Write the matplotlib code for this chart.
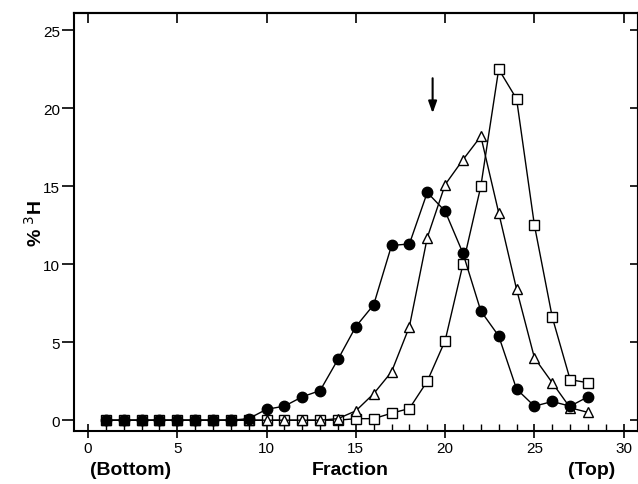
import numpy as np
import matplotlib
matplotlib.use('Agg')
import matplotlib.pyplot as plt

# fraction number, bottom (1) to top (28)
fractions = np.arange(1, 29)

# % 3H per fraction
filled_circles = [0, 0, 0, 0, 0, 0, 0, 0, 0.1, 0.7, 0.9, 1.5, 1.9, 3.9, 6.0, 7.4,
                  11.2, 11.3, 14.6, 13.4, 10.7, 7.0, 5.4, 2.0, 0.9, 1.2, 0.9, 1.5]
open_triangles = [0, 0, 0, 0, 0, 0, 0, 0, 0, 0, 0, 0, 0, 0.1, 0.6, 1.7,
                  3.1, 6.0, 11.7, 15.1, 16.7, 18.2, 13.3, 8.4, 4.0, 2.4, 0.8, 0.5]
open_squares = [0, 0, 0, 0, 0, 0, 0, 0, 0, 0, 0, 0, 0, 0, 0.1, 0.1,
                0.45, 0.75, 2.5, 5.1, 10.0, 15.0, 22.5, 20.6, 12.5, 6.6, 2.6, 2.4]

arrow_x = 19.3
arrow_from = 22.1
arrow_to = 19.5

plt.rcParams['font.family'] = ['Liberation Sans', 'DejaVu Sans']

fig = plt.figure(figsize=(6.38, 4.85), dpi=100)
ax = fig.add_axes([0.116, 0.109, 0.884, 0.862])

ax.plot(fractions, open_squares, '-', color='black', lw=1.0, marker='s', ms=6.5,
        mfc='white', mec='black', mew=1.0, zorder=2)
ax.plot(fractions, open_triangles, '-', color='black', lw=1.0, marker='^', ms=7.5,
        mfc='white', mec='black', mew=1.0, zorder=3)
ax.plot(fractions, filled_circles, '-', color='black', lw=1.0, marker='o', ms=7.5,
        mfc='black', mec='black', zorder=4)

ax.annotate('', xy=(arrow_x, arrow_to), xytext=(arrow_x, arrow_from),
            arrowprops=dict(arrowstyle='-|>,head_width=0.25,head_length=0.7',
                            color='black', lw=1.5))

ax.set_xlim(-0.78, 30.8)
ax.set_ylim(-0.7, 26.1)

major_x = [0, 5, 10, 15, 20, 25, 30]
major_y = [0, 5, 10, 15, 20, 25]
ax.set_xticks(major_x)
ax.set_xticks(np.arange(0, 31), minor=True)
ax.set_yticks(major_y)

ax.tick_params(axis='x', which='major', direction='inout', length=10, width=1.2,
               labelsize=11, pad=2)
ax.tick_params(axis='x', which='minor', direction='in', length=5, width=1.0)
ax.tick_params(axis='y', which='major', direction='out', length=9, width=1.2,
               labelsize=11, pad=1)

top = ax.secondary_xaxis('top')
top.set_xticks(major_x)
top.tick_params(direction='in', length=7, width=1.2, labeltop=False)
right = ax.secondary_yaxis('right')
right.set_yticks(major_y)
right.tick_params(direction='in', length=6, width=1.2, labelright=False)

for s in list(ax.spines.values()) + [top.spines['top'], right.spines['right']]:
    s.set_linewidth(1.5)

ax.set_ylabel('% $^3$H', fontsize=14, fontweight='bold')
ax.yaxis.set_label_coords(-0.05, 0.5)
fig.text(0.549, 0.03, 'Fraction', fontsize=14, fontweight='bold', ha='center', va='center')
fig.text(0.205, 0.03, '(Bottom)', fontsize=14, fontweight='bold', ha='center', va='center')
fig.text(0.928, 0.03, '(Top)', fontsize=14, fontweight='bold', ha='center', va='center')

fig.savefig('out.png', dpi=100)
